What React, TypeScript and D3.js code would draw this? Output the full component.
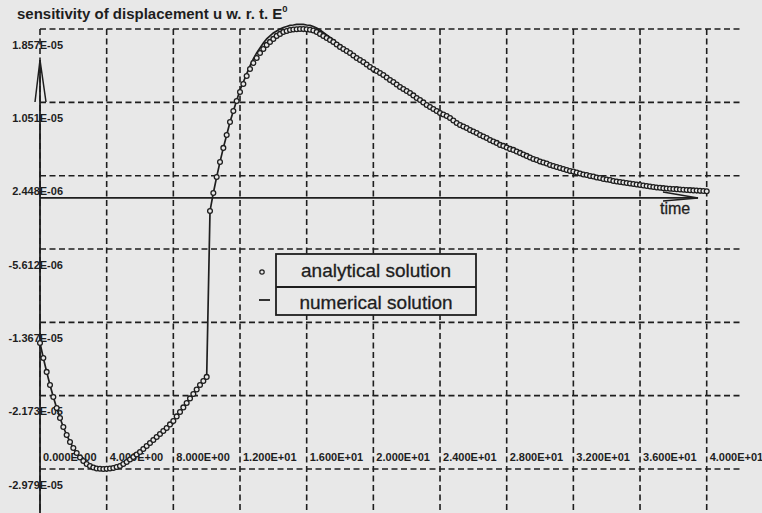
import * as d3 from "d3"
import React from "react"

const W = 762
const H = 513
const BG = "#e8e8e8"
const INK = "#1e1e1e"
const FONT = "'Liberation Sans', Arial, sans-serif"

// both solutions are sampled every 0.2 time units, t = 0 .. 40
const timeStep = 0.2

// sensitivity values, in units of 1E-06
const analytical = [
  -15.94, -17.59, -19.12, -20.55, -21.87, -23.08, -24.18, -25.17, -26.05, -26.82,
  -27.48, -28.03, -28.52, -28.91, -29.24, -29.46, -29.62, -29.73, -29.77, -29.79,
  -29.77, -29.73, -29.68, -29.57, -29.46, -29.24, -29.02, -28.74, -28.47, -28.19,
  -27.92, -27.59, -27.26, -26.93, -26.6, -26.27, -25.94, -25.61, -25.28, -24.89,
  -24.51, -24.01, -23.52, -23.02, -22.53, -22.03, -21.54, -21.05, -20.55, -20.11,
  -19.67, -1.43, 0.55, 2.31, 3.96, 5.5, 6.92, 8.35, 9.56, 10.66,
  11.65, 12.53, 13.41, 14.18, 14.84, 15.39, 15.94, 16.38, 16.82, 17.15,
  17.48, 17.81, 18.03, 18.25, 18.35, 18.46, 18.52, 18.55, 18.57, 18.56,
  18.53, 18.48, 18.41, 18.25, 18.03, 17.81, 17.59, 17.37, 17.15, 16.87,
  16.6, 16.38, 16.16, 15.94, 15.66, 15.39, 15.17, 14.95, 14.67, 14.4,
  14.18, 13.96, 13.74, 13.52, 13.24, 12.97, 12.75, 12.47, 12.2, 11.98,
  11.76, 11.54, 11.27, 10.99, 10.77, 10.5, 10.22, 10.0, 9.78, 9.56,
  9.34, 9.18, 9.01, 8.79, 8.52, 8.24, 8.02, 7.86, 7.69, 7.47,
  7.31, 7.14, 6.92, 6.76, 6.59, 6.37, 6.21, 6.05, 5.83, 5.72,
  5.55, 5.39, 5.28, 5.11, 4.95, 4.78, 4.62, 4.45, 4.29, 4.18,
  4.01, 3.9, 3.79, 3.63, 3.52, 3.41, 3.3, 3.19, 3.08, 2.97,
  2.91, 2.8, 2.69, 2.58, 2.53, 2.42, 2.36, 2.25, 2.2, 2.09,
  2.03, 1.98, 1.87, 1.81, 1.76, 1.7, 1.65, 1.59, 1.54, 1.48,
  1.43, 1.37, 1.32, 1.26, 1.21, 1.15, 1.12, 1.08, 1.04, 1.01,
  0.99, 0.97, 0.93, 0.91, 0.88, 0.86, 0.83, 0.81, 0.78, 0.76, 0.73,
]

const numerical = [
  -15.94, -17.59, -19.12, -20.55, -21.87, -23.08, -24.18, -25.17, -26.05, -26.82,
  -27.48, -28.03, -28.52, -28.91, -29.24, -29.46, -29.62, -29.73, -29.77, -29.79,
  -29.77, -29.73, -29.68, -29.57, -29.46, -29.24, -29.02, -28.74, -28.47, -28.19,
  -27.92, -27.59, -27.26, -26.93, -26.6, -26.27, -25.94, -25.61, -25.28, -24.89,
  -24.51, -24.01, -23.52, -23.02, -22.53, -22.03, -21.54, -21.05, -20.55, -20.11,
  -19.67, -1.43, 0.55, 2.31, 3.96, 5.5, 6.92, 8.35, 9.56, 10.7,
  11.87, 12.75, 13.63, 14.51, 15.28, 15.94, 16.49, 17.04, 17.48, 17.81,
  18.14, 18.35, 18.57, 18.74, 18.85, 18.96, 19.01, 19.07, 19.07, 19.07,
  19.01, 18.96, 18.85, 18.68, 18.46, 18.19, 17.92, 17.64, 17.37, 17.04,
  16.76, 16.49, 16.21, 15.96, 15.7, 15.41, 15.17, 14.95, 14.67, 14.4,
  14.18, 13.96, 13.74, 13.52, 13.24, 12.97, 12.75, 12.47, 12.2, 11.98,
  11.76, 11.54, 11.27, 10.99, 10.77, 10.5, 10.22, 10.0, 9.78, 9.56,
  9.34, 9.18, 9.01, 8.79, 8.52, 8.24, 8.02, 7.86, 7.69, 7.47,
  7.31, 7.14, 6.92, 6.76, 6.59, 6.37, 6.21, 6.05, 5.83, 5.72,
  5.55, 5.39, 5.28, 5.11, 4.95, 4.78, 4.62, 4.45, 4.29, 4.18,
  4.01, 3.9, 3.79, 3.63, 3.52, 3.41, 3.3, 3.19, 3.08, 2.97,
  2.91, 2.8, 2.69, 2.58, 2.53, 2.42, 2.36, 2.25, 2.2, 2.09,
  2.03, 1.98, 1.87, 1.81, 1.76, 1.7, 1.65, 1.59, 1.54, 1.48,
  1.43, 1.37, 1.32, 1.26, 1.21, 1.15, 1.12, 1.08, 1.04, 1.01,
  0.99, 0.97, 0.93, 0.91, 0.88, 0.86, 0.83, 0.81, 0.78, 0.76, 0.73,
]

const xTicks = [0, 4, 8, 12, 16, 20, 24, 28, 32, 36, 40]
const xTickLabels = [
  "0.000E+00", "4.000E+00", "8.000E+00", "1.200E+01", "1.600E+01", "2.000E+01",
  "2.400E+01", "2.800E+01", "3.200E+01", "3.600E+01", "4.000E+01",
]
// y ticks in units of 1E-06
const yTicks = [18.57, 10.51, 2.448, -5.612, -13.67, -21.73, -29.79]
const yTickLabels = ["1.857E-05", "1.051E-05", "2.448E-06", "-5.612E-06", "-1.367E-05", "-2.173E-05", "-2.979E-05"]

const title = "sensitivity of displacement u w. r. t. E"
const legendLabels = ["analytical solution", "numerical solution"]

export default function App() {
  const x = d3.scaleLinear().domain([0, 40]).range([40, 706.7])
  const y = d3.scaleLinear().domain([-29.79, 18.57]).range([469, 29])
  const t = (i: number) => i * timeStep

  const line = d3.line<number>().x((d, i) => x(t(i))).y(d => y(d))(numerical)

  const x0 = x(0)
  const y0 = y(0)
  const gridRight = 742
  const dash = "6 3.5"

  return (
    <div style={{ position: "fixed", left: 0, top: 0, width: W, height: H }}>
      <svg width={W} height={H} viewBox={`0 0 ${W} ${H}`} style={{ display: "block", fontFamily: FONT }}>
        <rect width={W} height={H} fill={BG} />

        {/* grid */}
        {xTicks.map(v => (
          <line key={"gx" + v} x1={x(v)} x2={x(v)} y1={y(yTicks[0])} y2={H} stroke={INK} strokeWidth={1.6} strokeDasharray={dash} />
        ))}
        {yTicks.map(v => (
          <line key={"gy" + v} x1={x0} x2={gridRight} y1={y(v)} y2={y(v)} stroke={INK} strokeWidth={1.6} strokeDasharray={dash} />
        ))}

        {/* axes with arrows */}
        <line x1={x0} x2={x0} y1={60} y2={H} stroke={INK} strokeWidth={1.8} />
        <path d={`M${x0 - 5},102 L${x0},60 L${x0 + 6},102`} fill="none" stroke={INK} strokeWidth={1.5} />
        <line x1={x0} x2={698} y1={y0} y2={y0} stroke={INK} strokeWidth={1.8} />
        <path d={`M663,${y0 - 6} L698,${y0} L663,${y0 + 3}`} fill="none" stroke={INK} strokeWidth={1.5} />

        {/* tick labels */}
        {yTicks.map((v, i) => (
          <text key={"ly" + v} x={63} y={y(v) + 19.5} textAnchor="end" fontSize={11} fontWeight="bold" fill={INK}>
            {yTickLabels[i]}
          </text>
        ))}
        {xTicks.map((v, i) => (
          <text key={"lx" + v} x={x(v) + 3} y={461} fontSize={11} fontWeight="bold" fill={INK}>
            {xTickLabels[i]}
          </text>
        ))}

        {/* series */}
        <path d={line || ""} fill="none" stroke={INK} strokeWidth={1.7} />
        {analytical.map((v, i) => (
          <circle key={"c" + i} cx={x(t(i))} cy={y(v)} r={2.4} fill={BG} stroke={INK} strokeWidth={1.3} />
        ))}

        {/* legend */}
        <rect x={276} y={254} width={200} height={61} fill={BG} stroke={INK} strokeWidth={1.8} />
        <line x1={276} x2={476} y1={287} y2={287} stroke={INK} strokeWidth={1.8} />
        <circle cx={262} cy={272} r={2.2} fill={BG} stroke={INK} strokeWidth={1.2} />
        <line x1={259} x2={270} y1={300} y2={300} stroke={INK} strokeWidth={1.8} />
        <text x={376} y={277} textAnchor="middle" fontSize={19} fill={INK} stroke={INK} strokeWidth={0.3}>{legendLabels[0]}</text>
        <text x={376} y={309} textAnchor="middle" fontSize={19} fill={INK} stroke={INK} strokeWidth={0.3}>{legendLabels[1]}</text>

        {/* title and axis name */}
        <text x={17} y={19} fontSize={15} fontWeight="bold" fill={INK}>
          {title}
          <tspan fontSize={9.5} dy={-7.5}>0</tspan>
        </text>
        <text x={660} y={214} fontSize={16} fill={INK} stroke={INK} strokeWidth={0.3}>time</text>
      </svg>
    </div>
  )
}
